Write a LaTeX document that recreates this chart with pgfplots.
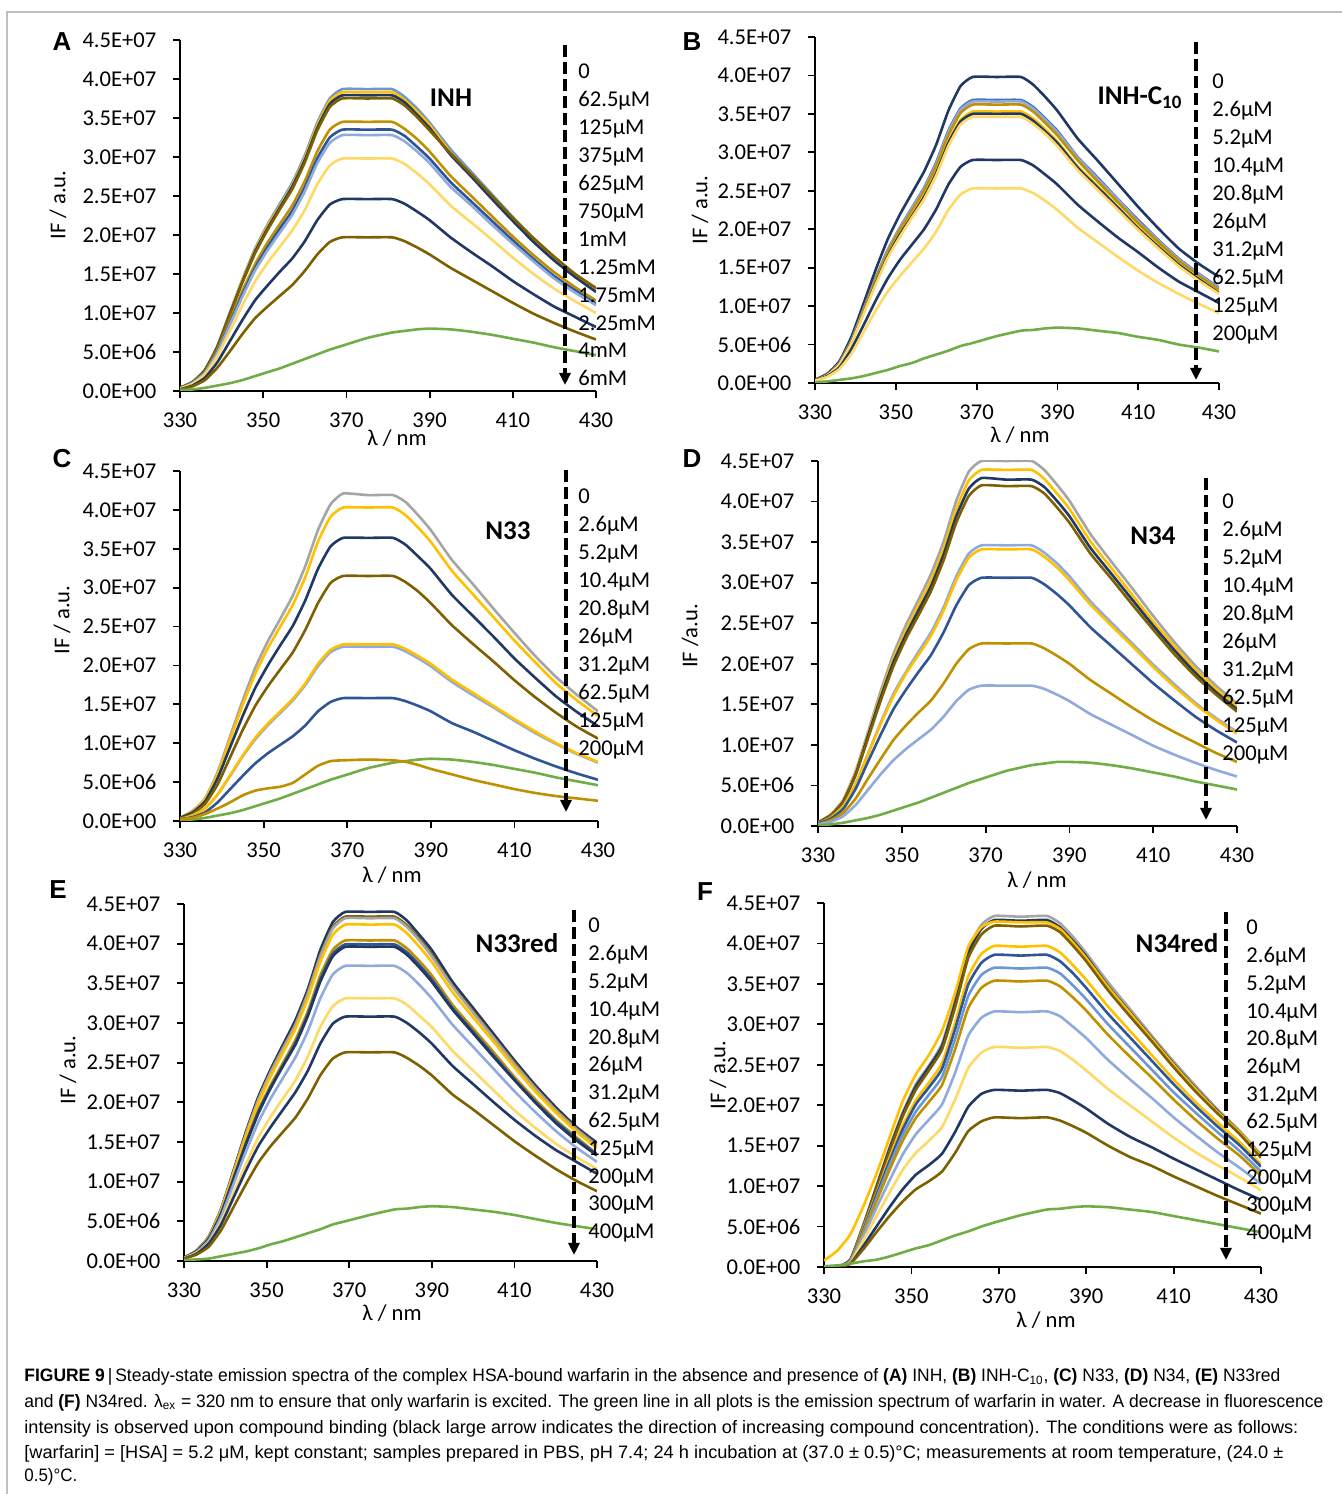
\documentclass[border=0pt]{standalone}
\usepackage{pgfplots}
\pgfplotsset{compat=1.18}
\usepackage{pgfplotstable}
\usepackage{graphicx}
\usepackage{fontspec}
\usetikzlibrary{arrows.meta}
\setmainfont{Carlito}
\newfontfamily\capfont{Liberation Sans}
\newfontfamily\letfont{Liberation Sans}

\definecolor{cGray}{HTML}{A5A5A5}
\definecolor{cGold}{HTML}{FFC000}
\definecolor{cNavy}{HTML}{203864}
\definecolor{cBrown}{HTML}{7F6000}
\definecolor{cDkGold}{HTML}{BF9000}
\definecolor{cBlue}{HTML}{2F5597}
\definecolor{cBlueM}{HTML}{4472C4}
\definecolor{cBlueL}{HTML}{6C97D6}
\definecolor{cLtBlue}{HTML}{8FAADC}
\definecolor{cLtGold}{HTML}{FFD966}
\definecolor{cGreen}{HTML}{70AD47}
\definecolor{cFrame}{HTML}{BFBFBF}

\newcommand\fs{\fontsize{11.3}{13}\selectfont}

% ---------- data (intensity in units of 1e6) ----------
\pgfplotstableread{
id 330 333 336 339 342 345 348 351 354 357 360 363 366 369 375 381 384 387 390 395 400 405 410 415 420 425 430
a1 0.4 1.2 2.7 5.8 10.1 14.3 18.2 21.3 24.0 26.7 30.2 34.4 37.5 38.7 38.7 38.7 37.7 36.2 34.4 31.0 28.1 25.2 22.3 19.5 17.0 14.9 13.0
a2 0.4 1.1 2.7 5.7 10.0 14.2 18.0 21.1 23.7 26.4 29.9 34.1 37.2 38.3 38.3 38.3 37.3 35.8 34.1 30.6 27.8 24.9 22.0 19.3 16.9 14.7 12.8
a3 0.4 1.1 2.7 5.7 9.9 14.0 17.8 20.8 23.5 26.2 29.6 33.7 36.8 37.9 37.9 37.9 37.0 35.4 33.7 30.3 27.5 24.6 21.8 19.1 16.7 14.6 12.7
a4 0.4 1.1 2.6 5.6 9.8 13.9 17.6 20.6 23.3 25.9 29.3 33.4 36.4 37.5 37.5 37.5 36.6 35.1 33.4 30.5 27.8 25.0 22.2 19.6 17.2 15.0 13.2
a5 0.3 1.0 2.4 5.2 9.0 12.8 16.2 19.0 21.4 23.8 26.9 30.7 33.5 34.5 34.5 34.5 33.6 32.3 30.7 27.6 25.0 22.4 19.8 17.4 15.2 13.3 11.6
a6 0.3 1.0 2.3 5.0 8.7 12.4 15.7 18.4 20.8 23.1 26.1 29.8 32.5 33.5 33.5 33.5 32.7 31.3 29.8 26.8 24.3 21.8 19.3 16.9 14.7 12.9 11.2
a7 0.3 1.0 2.3 4.9 8.5 12.1 15.4 18.0 20.3 22.6 25.6 29.2 31.8 32.8 32.8 32.8 32.0 30.7 29.2 26.2 23.8 21.3 18.9 16.6 14.4 12.6 11.0
a8 0.3 0.9 2.1 4.5 7.7 11.0 14.0 16.4 18.5 20.6 23.2 26.5 28.9 29.8 29.8 29.8 29.1 27.9 26.5 23.8 21.6 19.4 17.1 15.0 13.1 11.5 10.0
a9 0.2 0.7 1.7 3.7 6.4 9.1 11.6 13.5 15.3 17.0 19.2 21.9 23.9 24.6 24.6 24.6 24.0 23.0 21.9 19.7 17.8 16.0 14.1 12.4 10.8 9.5 8.2
a10 0.2 0.6 1.4 3.0 5.1 7.3 9.3 10.8 12.2 13.6 15.4 17.5 19.1 19.7 19.7 19.7 19.2 18.4 17.5 15.8 14.3 12.8 11.3 9.9 8.7 7.6 6.6
g 0.1 0.2 0.4 0.7 1.0 1.4 1.9 2.4 2.9 3.5 4.1 4.7 5.3 5.8 6.8 7.5 7.7 7.9 8.0 7.9 7.6 7.2 6.7 6.2 5.6 5.1 4.6
}\rawA
\pgfplotstableread{
id 330 333 336 339 342 345 348 351 354 357 360 363 366 369 375 381 384 387 390 395 400 405 410 415 420 425 430
b1 0.4 1.2 2.8 6.0 10.3 14.7 18.7 21.9 24.7 27.5 31.0 35.4 38.6 39.8 39.8 39.8 38.8 37.2 35.4 31.8 28.9 25.9 22.9 20.1 17.5 15.5 13.8
b2 0.4 1.1 2.6 5.5 9.6 13.6 17.3 20.2 22.8 25.4 28.7 32.8 35.7 36.8 36.8 36.8 35.9 34.4 32.8 29.4 26.7 23.9 21.2 18.6 16.2 14.2 12.4
b3 0.4 1.1 2.6 5.5 9.5 13.5 17.2 20.1 22.7 25.3 28.5 32.6 35.5 36.6 36.6 36.6 35.7 34.2 32.6 29.3 26.5 23.8 21.0 18.5 16.1 14.1 12.3
b4 0.4 1.1 2.5 5.4 9.4 13.4 17.0 19.9 22.4 25.0 28.2 32.2 35.1 36.2 36.2 36.2 35.3 33.8 32.2 29.0 26.2 23.5 20.8 18.3 15.9 13.9 12.1
b5 0.4 1.1 2.5 5.3 9.2 13.1 16.6 19.4 21.9 24.4 27.5 31.4 34.2 35.3 35.3 35.3 34.4 33.0 31.4 28.2 25.6 22.9 20.3 17.8 15.5 13.6 11.8
b6 0.4 1.1 2.5 5.3 9.1 13.0 16.5 19.3 21.7 24.2 27.3 31.2 34.0 35.0 35.0 35.0 34.1 32.7 31.2 28.0 25.4 22.8 20.1 17.7 15.4 13.5 11.7
b7 0.3 1.0 2.4 5.2 9.0 12.8 16.3 19.0 21.5 23.9 27.0 30.8 33.6 34.6 34.6 34.6 33.7 32.4 30.8 27.7 25.1 22.5 19.9 17.5 15.2 13.3 11.6
b8 0.3 0.9 2.0 4.4 7.5 10.7 13.6 16.0 18.0 20.0 22.6 25.8 28.1 29.0 29.0 29.0 28.3 27.1 25.8 23.2 21.0 18.9 17.0 15.0 13.2 11.8 10.4
b9 0.3 0.8 1.8 3.8 6.6 9.4 11.9 13.9 15.7 17.5 19.7 22.5 24.5 25.3 25.3 25.3 24.7 23.7 22.5 20.2 18.3 16.4 14.6 13.0 11.6 10.3 9.1
g 0.1 0.2 0.4 0.6 0.9 1.3 1.7 2.2 2.6 3.2 3.7 4.2 4.8 5.2 6.1 6.8 6.9 7.1 7.2 7.1 6.8 6.5 6.0 5.6 5.0 4.6 4.1
}\rawB
\pgfplotstableread{
id 330 333 336 339 342 345 348 351 354 357 360 363 366 369 375 381 384 387 390 395 400 405 410 415 420 425 430
c1 0.4 1.3 2.9 6.3 10.9 15.5 19.7 23.1 26.0 29.0 32.8 37.4 40.7 42.1 41.9 41.9 41.0 39.3 37.4 33.6 30.5 27.3 24.2 21.2 18.5 16.2 14.1
c2 0.4 1.2 2.8 6.0 10.5 14.9 18.9 22.2 25.0 27.8 31.4 35.9 39.1 40.3 40.3 40.3 39.3 37.7 35.9 32.2 29.2 26.2 23.2 20.4 17.7 15.5 13.5
c3 0.4 1.1 2.5 5.5 9.5 13.5 17.1 20.0 22.6 25.1 28.4 32.4 35.3 36.4 36.4 36.4 35.5 34.0 32.4 29.1 26.4 23.7 20.9 18.4 16.0 14.0 12.2
c4 0.3 0.9 2.2 4.7 8.2 11.7 14.8 17.3 19.5 21.7 24.6 28.0 30.6 31.5 31.5 31.5 30.7 29.5 28.0 25.2 22.8 20.5 18.1 15.9 13.9 12.1 10.6
c5 0.2 0.7 1.6 3.4 5.8 8.3 10.5 12.3 13.9 15.5 17.5 19.9 21.7 22.4 22.4 22.4 21.8 20.9 19.9 17.9 16.2 14.6 12.9 11.3 9.9 8.6 7.5
c6 0.2 0.7 1.6 3.4 5.9 8.4 10.7 12.5 14.1 15.7 17.7 20.2 22.0 22.7 22.7 22.7 22.1 21.2 20.2 18.2 16.5 14.8 13.1 11.5 10.0 8.7 7.6
c7 0.2 0.5 1.1 2.4 4.1 5.8 7.4 8.7 9.8 10.9 12.3 14.1 15.3 15.8 15.8 15.8 15.4 14.8 14.1 12.6 11.5 10.3 9.1 8.0 7.0 6.1 5.3
c8 0.2 0.4 0.9 1.6 2.4 3.3 3.9 4.2 4.4 4.9 6.0 7.1 7.7 7.8 7.9 7.8 7.6 7.2 6.7 6.0 5.3 4.7 4.1 3.6 3.2 2.9 2.6
g 0.1 0.2 0.4 0.7 1.0 1.4 1.9 2.4 2.9 3.5 4.1 4.7 5.3 5.8 6.8 7.5 7.7 7.9 8.0 7.9 7.6 7.2 6.7 6.2 5.6 5.1 4.6
}\rawC
\pgfplotstableread{
id 330 333 336 339 342 345 348 351 354 357 360 363 366 369 375 381 384 387 390 395 400 405 410 415 420 425 430
d1 0.5 1.4 3.2 6.8 11.7 16.7 21.2 24.8 27.9 31.1 35.1 40.1 43.7 45.0 45.0 45.0 43.9 42.1 40.1 36.0 32.6 29.3 25.9 22.7 19.8 17.3 15.1
d2 0.4 1.3 3.1 6.6 11.4 16.2 20.6 24.1 27.2 30.3 34.2 39.1 42.6 43.9 43.9 43.9 42.8 41.0 39.1 35.1 31.8 28.5 25.2 22.2 19.3 16.9 14.7
d3 0.4 1.3 3.0 6.4 11.2 15.9 20.2 23.6 26.6 29.6 33.5 38.2 41.6 42.9 42.7 42.7 41.8 40.1 38.2 34.3 31.1 27.9 24.7 21.7 18.9 16.5 14.4
d4 0.4 1.3 2.9 6.3 10.9 15.5 19.7 23.1 26.0 29.0 32.8 37.4 40.7 42.0 41.9 41.9 41.0 39.3 37.4 33.6 30.5 27.3 24.2 21.2 18.5 16.2 14.1
d5 0.3 1.0 2.4 5.2 9.0 12.8 16.3 19.0 21.5 23.9 27.0 30.8 33.6 34.6 34.6 34.6 33.7 32.4 30.8 27.7 25.1 22.5 19.9 17.5 15.2 13.3 11.6
d6 0.3 1.0 2.4 5.1 8.9 12.6 16.0 18.8 21.1 23.5 26.6 30.3 33.1 34.1 34.1 34.1 33.2 31.9 30.3 27.3 24.7 22.2 19.6 17.2 15.0 13.1 11.4
d7 0.3 0.9 2.1 4.6 8.0 11.3 14.4 16.8 19.0 21.1 23.9 27.2 29.7 30.6 30.6 30.6 29.8 28.6 27.2 24.5 22.2 19.9 17.6 15.5 13.5 11.8 10.3
d8 0.2 0.7 1.6 3.4 5.9 8.3 10.6 12.4 14.0 15.5 17.6 20.0 21.8 22.5 22.5 22.5 21.9 21.0 20.0 18.0 16.3 14.6 13.0 11.6 10.3 9.0 7.9
d9 0.2 0.5 1.2 2.6 4.5 6.4 8.1 9.5 10.7 11.9 13.5 15.4 16.8 17.3 17.3 17.3 16.9 16.2 15.4 13.8 12.5 11.2 9.9 8.8 7.8 6.9 6.1
g 0.1 0.2 0.4 0.7 1.0 1.4 1.9 2.4 2.9 3.5 4.1 4.7 5.3 5.8 6.8 7.5 7.7 7.9 7.9 7.8 7.5 7.1 6.6 6.1 5.5 5.0 4.5
}\rawD
\pgfplotstableread{
id 330 333 336 339 342 345 348 351 354 357 360 363 366 369 375 381 384 387 390 395 400 405 410 415 420 425 430
e1 0.4 1.3 3.1 6.6 11.4 16.3 20.7 24.2 27.3 30.4 34.3 39.2 42.7 44.0 44.0 44.0 42.9 41.1 39.2 35.2 31.9 28.6 25.3 22.2 19.4 16.9 14.9
e2 0.4 1.3 3.0 6.5 11.3 16.1 20.4 23.9 26.9 29.9 33.9 38.6 42.1 43.4 43.4 43.4 42.3 40.6 38.6 34.7 31.5 28.2 25.0 21.9 19.1 16.7 14.6
e3 0.4 1.3 3.0 6.5 11.2 16.0 20.3 23.8 26.8 29.8 33.7 38.4 41.9 43.2 43.2 43.2 42.1 40.4 38.4 34.6 31.3 28.1 24.8 21.8 19.0 16.6 14.5
e4 0.4 1.3 3.0 6.4 11.0 15.7 19.9 23.3 26.3 29.3 33.1 37.7 41.1 42.4 42.4 42.4 41.3 39.6 37.7 33.9 30.7 27.6 24.4 21.4 18.7 16.3 14.2
e5 0.4 1.2 2.8 6.1 10.5 14.9 19.0 22.2 25.0 27.9 31.5 36.0 39.2 40.4 40.4 40.4 39.4 37.8 36.0 32.3 29.3 26.3 23.2 20.4 17.8 15.6 13.5
e6 0.4 1.2 2.8 6.0 10.4 14.8 18.8 21.9 24.7 27.5 31.1 35.5 38.7 39.9 39.9 39.9 38.9 37.3 35.5 31.9 28.9 25.9 22.9 20.1 17.6 15.4 13.4
e7 0.4 1.2 2.8 5.9 10.3 14.7 18.6 21.8 24.6 27.3 30.9 35.2 38.4 39.6 39.6 39.6 38.6 37.0 35.2 31.7 28.7 25.7 22.8 20.0 17.4 15.2 13.3
e8 0.4 1.1 2.6 5.6 9.7 13.8 17.5 20.5 23.1 25.7 29.0 33.1 36.1 37.2 37.2 37.2 36.3 34.8 33.1 29.8 27.0 24.2 21.4 18.8 16.4 14.3 12.5
e9 0.3 1.0 2.3 5.0 8.6 12.2 15.6 18.2 20.5 22.8 25.8 29.5 32.1 33.1 33.1 33.1 32.3 30.9 29.5 26.5 24.0 21.5 19.0 16.8 14.8 13.1 11.6
e10 0.3 0.9 2.2 4.6 8.0 11.4 14.5 16.9 19.1 21.3 24.0 27.4 29.9 30.8 30.8 30.8 30.0 28.8 27.4 24.6 22.3 20.0 17.8 15.8 14.0 12.5 11.0
e11 0.3 0.8 1.8 3.9 6.8 9.7 12.4 14.5 16.3 18.1 20.5 23.4 25.5 26.3 26.3 26.3 25.6 24.6 23.4 21.0 19.1 17.1 15.1 13.3 11.6 10.1 8.8
g 0.1 0.2 0.3 0.6 0.9 1.2 1.6 2.1 2.5 3.0 3.5 4.0 4.6 5.0 5.8 6.5 6.6 6.8 6.9 6.8 6.5 6.2 5.8 5.3 4.8 4.4 4.0
}\rawE
\pgfplotstableread{
id 330 333 336 339 342 345 348 351 354 357 360 363 366 369 375 381 384 387 390 395 400 405 410 415 420 425 430
f1 0 0 0.9 5.2 10.0 14.8 19.1 22.6 24.9 27.6 33.0 39.3 42.3 43.4 43.3 43.4 42.5 40.8 38.8 35.2 31.9 28.6 25.4 22.4 19.5 16.9 13.9
f2 0 0 0.9 5.1 9.9 14.6 18.9 22.3 24.7 27.3 32.6 38.8 41.8 42.9 42.8 42.9 42.0 40.3 38.4 34.7 31.5 28.3 25.1 22.1 19.3 16.7 13.7
f3 0.8 2.0 4.0 7.5 11.5 16.0 20.5 23.8 26.2 29.2 33.9 39.6 42.0 42.7 42.6 42.6 41.8 40.1 38.2 34.6 31.4 28.2 25.0 22.0 19.2 16.7 13.7
f4 0 0 0.8 5.1 9.7 14.3 18.6 21.9 24.3 26.9 32.1 38.2 41.1 42.2 42.1 42.2 41.4 39.7 37.8 34.2 31.0 27.9 24.7 21.7 19.0 16.5 13.5
f5 0 0 0.8 4.8 9.1 13.5 17.5 20.6 22.8 25.2 30.2 35.9 38.7 39.7 39.6 39.7 38.9 37.3 35.5 32.2 29.2 26.2 23.2 20.4 17.9 15.5 12.7
f6 0 0 0.8 4.6 8.9 13.1 17.0 20.1 22.2 24.5 29.4 34.9 37.6 38.6 38.5 38.6 37.8 36.3 34.5 31.3 28.4 25.5 22.6 19.9 17.4 15.1 12.4
f7 0 0 0.7 4.4 8.5 12.6 16.3 19.2 21.3 23.5 28.2 33.5 36.1 37.0 36.9 37.0 36.3 34.8 33.1 30.0 27.2 24.4 21.6 19.1 16.7 14.4 11.8
f8 0 0 0.7 4.2 8.1 12.0 15.6 18.4 20.4 22.5 26.9 32.0 34.5 35.4 35.3 35.4 34.7 33.3 31.7 28.7 26.0 23.4 20.7 18.2 15.9 13.8 11.3
f9 0 0 0.6 3.8 7.3 10.7 13.9 16.4 18.2 20.1 24.0 28.6 30.8 31.6 31.5 31.6 31.0 29.7 28.3 25.6 23.2 20.9 18.5 16.3 14.2 12.3 10.3
f10 0 0 0.5 3.3 6.3 9.2 12.0 14.1 15.6 17.3 20.7 24.6 26.5 27.2 27.1 27.2 26.7 25.6 24.3 22.0 20.0 18.0 16.0 14.2 12.6 11.1 9.5
f11 0 0 0.4 2.6 5.0 7.4 9.6 11.4 12.6 14.0 16.7 19.8 21.4 21.9 21.8 21.9 21.5 20.6 19.6 17.7 16.1 14.8 13.4 12.1 10.8 9.5 8.3
f12 0 0 0.4 2.2 4.3 6.3 8.1 9.6 10.6 11.8 14.1 16.8 18.0 18.5 18.4 18.5 18.1 17.4 16.6 15.0 13.6 12.5 11.2 10.0 8.8 7.7 6.6
g 0.1 0.2 0.4 0.7 0.9 1.3 1.8 2.3 2.7 3.3 3.9 4.4 5.0 5.5 6.4 7.1 7.2 7.4 7.5 7.4 7.1 6.8 6.3 5.8 5.3 4.8 4.3
}\rawF
\pgfplotstabletranspose[colnames from=id,input colnames to=x]{\tabA}{\rawA}
\pgfplotstabletranspose[colnames from=id,input colnames to=x]{\tabB}{\rawB}
\pgfplotstabletranspose[colnames from=id,input colnames to=x]{\tabC}{\rawC}
\pgfplotstabletranspose[colnames from=id,input colnames to=x]{\tabD}{\rawD}
\pgfplotstabletranspose[colnames from=id,input colnames to=x]{\tabE}{\rawE}
\pgfplotstabletranspose[colnames from=id,input colnames to=x]{\tabF}{\rawF}

\pgfplotsset{
  panel/.style={
    scale only axis, axis lines=left,
    axis line style={-, line width=0.9pt, black},
    xmin=330, xmax=430, ymin=0, ymax=45,
    xtick={330,350,370,390,410,430},
    xticklabels={330,350,370,390,410,430},
    ytick={0,5,10,15,20,25,30,35,40,45},
    yticklabels={0.0E+00,5.0E+06,1.0E+07,1.5E+07,2.0E+07,2.5E+07,3.0E+07,3.5E+07,4.0E+07,4.5E+07},
    tick align=outside, major tick length=3.5pt,
    tick style={black, line width=0.9pt},
    ticklabel style={font=\fs},
    yticklabel style={xshift=-4.8pt},
    xticklabel style={yshift=-3.8pt},
    no markers,
    every axis plot/.append style={line width=1.3pt, smooth, tension=0.3, line join=round},
  },
}
\tikzset{
  arr/.style={line width=2pt, dash pattern=on 6pt off 2.5pt, -{Triangle[length=6pt,width=5.5pt]}},
  conc/.style={font=\fs, anchor=base west, inner sep=0pt},
  ttl/.style={font=\bfseries\fontsize{13.5}{15}\selectfont},
  plet/.style={font=\letfont\bfseries\fontsize{13}{15}\selectfont},
  ylab/.style={font=\fs, rotate=90},
  xlab/.style={font=\fs},
}

\begin{document}
\begin{tikzpicture}
\path[use as bounding box] (0pt,0pt) rectangle (671pt,747pt);
\draw[cFrame, line width=0.6pt] (3.5pt,0pt) -- (3.5pt,741pt) -- (671pt,741pt);

% ---------------- A ----------------
\begin{axis}[panel, at={(90pt,551.5pt)}, anchor=south west, width=208pt, height=175.5pt]
\addplot[cBlueL] table[x=x,y=a1]{\tabA};
\addplot[cGold] table[x=x,y=a2]{\tabA};
\addplot[cNavy] table[x=x,y=a3]{\tabA};
\addplot[cBrown] table[x=x,y=a4]{\tabA};
\addplot[cDkGold] table[x=x,y=a5]{\tabA};
\addplot[cBlue] table[x=x,y=a6]{\tabA};
\addplot[cLtBlue] table[x=x,y=a7]{\tabA};
\addplot[cLtGold] table[x=x,y=a8]{\tabA};
\addplot[cNavy] table[x=x,y=a9]{\tabA};
\addplot[cBrown] table[x=x,y=a10]{\tabA};
\addplot[cGreen] table[x=x,y=g]{\tabA};
\end{axis}

% ---------------- B ----------------
\begin{axis}[panel, at={(407.5pt,555.5pt)}, anchor=south west, width=202pt, height=173pt]
\addplot[cNavy] table[x=x,y=b1]{\tabB};
\addplot[cBlueM] table[x=x,y=b2]{\tabB};
\addplot[cLtBlue] table[x=x,y=b3]{\tabB};
\addplot[cDkGold] table[x=x,y=b4]{\tabB};
\addplot[cGold] table[x=x,y=b5]{\tabB};
\addplot[cNavy] table[x=x,y=b6]{\tabB};
\addplot[cLtGold] table[x=x,y=b7]{\tabB};
\addplot[cNavy] table[x=x,y=b8]{\tabB};
\addplot[cLtGold] table[x=x,y=b9]{\tabB};
\addplot[cGreen] table[x=x,y=g]{\tabB};
\end{axis}

% ---------------- C ----------------
\begin{axis}[panel, at={(90pt,336.5pt)}, anchor=south west, width=209pt, height=175pt]
\addplot[cGray] table[x=x,y=c1]{\tabC};
\addplot[cGold] table[x=x,y=c2]{\tabC};
\addplot[cNavy] table[x=x,y=c3]{\tabC};
\addplot[cBrown] table[x=x,y=c4]{\tabC};
\addplot[cLtBlue] table[x=x,y=c5]{\tabC};
\addplot[cGold] table[x=x,y=c6]{\tabC};
\addplot[cBlue] table[x=x,y=c7]{\tabC};
\addplot[cGreen] table[x=x,y=g]{\tabC};
\addplot[cDkGold] table[x=x,y=c8]{\tabC};
\end{axis}

% ---------------- D ----------------
\begin{axis}[panel, at={(409pt,334pt)}, anchor=south west, width=209.5pt, height=182.5pt]
\addplot[cGray] table[x=x,y=d1]{\tabD};
\addplot[cGold] table[x=x,y=d2]{\tabD};
\addplot[cNavy] table[x=x,y=d3]{\tabD};
\addplot[cBrown] table[x=x,y=d4]{\tabD};
\addplot[cLtBlue] table[x=x,y=d5]{\tabD};
\addplot[cGold] table[x=x,y=d6]{\tabD};
\addplot[cBlue] table[x=x,y=d7]{\tabD};
\addplot[cDkGold] table[x=x,y=d8]{\tabD};
\addplot[cLtBlue] table[x=x,y=d9]{\tabD};
\addplot[cGreen] table[x=x,y=g]{\tabD};
\end{axis}

% ---------------- E ----------------
\begin{axis}[panel, at={(92pt,116.5pt)}, anchor=south west, width=206.5pt, height=178.5pt]
\addplot[cNavy] table[x=x,y=e1]{\tabE};
\addplot[cBrown] table[x=x,y=e2]{\tabE};
\addplot[cGray] table[x=x,y=e3]{\tabE};
\addplot[cGold] table[x=x,y=e4]{\tabE};
\addplot[cDkGold] table[x=x,y=e5]{\tabE};
\addplot[cBlue] table[x=x,y=e6]{\tabE};
\addplot[cNavy] table[x=x,y=e7]{\tabE};
\addplot[cLtBlue] table[x=x,y=e8]{\tabE};
\addplot[cLtGold] table[x=x,y=e9]{\tabE};
\addplot[cNavy] table[x=x,y=e10]{\tabE};
\addplot[cBrown] table[x=x,y=e11]{\tabE};
\addplot[cGreen] table[x=x,y=g]{\tabE};
\end{axis}

% ---------------- F ----------------
\begin{axis}[panel, at={(412pt,113.5pt)}, anchor=south west, width=218.5pt, height=182pt]
\addplot[cGray] table[x=x,y=f1]{\tabF};
\addplot[cNavy] table[x=x,y=f2]{\tabF};
\addplot[cGold] table[x=x,y=f3]{\tabF};
\addplot[cBrown] table[x=x,y=f4]{\tabF};
\addplot[cGold] table[x=x,y=f5]{\tabF};
\addplot[cBlue] table[x=x,y=f6]{\tabF};
\addplot[cBlueL] table[x=x,y=f7]{\tabF};
\addplot[cDkGold] table[x=x,y=f8]{\tabF};
\addplot[cLtBlue] table[x=x,y=f9]{\tabF};
\addplot[cLtGold] table[x=x,y=f10]{\tabF};
\addplot[cNavy] table[x=x,y=f11]{\tabF};
\addplot[cBrown] table[x=x,y=f12]{\tabF};
\addplot[cGreen] table[x=x,y=g]{\tabF};
\end{axis}

% ---------------- annotations ----------------
\node[plet] at (31pt,726pt) {A};
\node[plet] at (346pt,726pt) {B};
\node[plet] at (31pt,517.5pt) {C};
\node[plet] at (346pt,517.5pt) {D};
\node[plet] at (29pt,302pt) {E};
\node[plet] at (352.5pt,301pt) {F};

\node[ttl] at (225.5pt,698pt) {INH};
\node[ttl] at (570pt,698pt) {INH-C\textsubscript{10}};
\node[ttl] at (254pt,481.5pt) {N33};
\node[ttl] at (576.5pt,479pt) {N34};
\node[ttl] at (258.5pt,275.5pt) {N33red};
\node[ttl] at (588.5pt,275.5pt) {N34red};

\node[ylab] at (29pt,644.5pt) {IF / a.u.};
\node[ylab] at (350pt,642pt) {IF / a.u.};
\node[ylab] at (31pt,437pt) {IF / a.u.};
\node[ylab] at (345pt,429pt) {IF /a.u.};
\node[ylab] at (34pt,212pt) {IF / a.u.};
\node[ylab] at (359pt,209.5pt) {IF / a.u.};

\node[xlab] at (198.5pt,528pt) {λ / nm};
\node[xlab] at (510pt,529.5pt) {λ / nm};
\node[xlab] at (196pt,309.5pt) {λ / nm};
\node[xlab] at (518.5pt,307pt) {λ / nm};
\node[xlab] at (196pt,90.5pt) {λ / nm};
\node[xlab] at (523pt,87pt) {λ / nm};

\draw[arr] (282.5pt,724.5pt) -- (282.5pt,554.5pt);
\draw[arr] (598pt,726pt) -- (598pt,557pt);
\draw[arr] (283pt,512pt) -- (283pt,341pt);
\draw[arr] (603pt,508pt) -- (603pt,337pt);
\draw[arr] (287pt,292pt) -- (287pt,119.5pt);
\draw[arr] (613pt,291pt) -- (613pt,117pt);

\foreach \t [count=\i from 0] in {0,62.5μM,125μM,375μM,625μM,750μM,1mM,1.25mM,1.75mM,2.25mM,4mM,6mM}
  \node[conc] at (289pt,{707.5pt-\i*13.95pt}) {\t};
\foreach \t [count=\i from 0] in {0,2.6μM,5.2μM,10.4μM,20.8μM,26μM,31.2μM,62.5μM,125μM,200μM}
  \node[conc] at (606pt,{702.5pt-\i*13.95pt}) {\t};
\foreach \t [count=\i from 0] in {0,2.6μM,5.2μM,10.4μM,20.8μM,26μM,31.2μM,62.5μM,125μM,200μM}
  \node[conc] at (289pt,{495pt-\i*13.95pt}) {\t};
\foreach \t [count=\i from 0] in {0,2.6μM,5.2μM,10.4μM,20.8μM,26μM,31.2μM,62.5μM,125μM,200μM}
  \node[conc] at (611pt,{492.5pt-\i*13.95pt}) {\t};
\foreach \t [count=\i from 0] in {0,2.6μM,5.2μM,10.4μM,20.8μM,26μM,31.2μM,62.5μM,125μM,200μM,300μM,400μM}
  \node[conc] at (294pt,{280.5pt-\i*13.9pt}) {\t};
\foreach \t [count=\i from 0] in {0,2.6μM,5.2μM,10.4μM,20.8μM,26μM,31.2μM,62.5μM,125μM,200μM,300μM,400μM}
  \node[conc] at (623pt,{279.5pt-\i*13.85pt}) {\t};

% ---------------- caption ----------------
\begin{scope}[every node/.style={anchor=base west, inner sep=0pt, font=\capfont\fontsize{9}{11}\selectfont}]
\node at (12pt,56pt) {\resizebox{628pt}{\height}{\textbf{FIGURE 9}\,|\,Steady-state emission spectra of the complex HSA-bound warfarin in the absence and presence of \textbf{(A)} INH, \textbf{(B)} INH-C\textsubscript{10}, \textbf{(C)} N33, \textbf{(D)} N34, \textbf{(E)} N33red}};
\node at (12pt,43pt) {\resizebox{649.5pt}{\height}{and \textbf{(F)} N34red. λ\textsubscript{ex} = 320 nm to ensure that only warfarin is excited. The green line in all plots is the emission spectrum of warfarin in water. A decrease in fluorescence}};
\node at (12pt,30.5pt) {\resizebox{637pt}{\height}{intensity is observed upon compound binding (black large arrow indicates the direction of increasing compound concentration). The conditions were as follows:}};
\node at (12pt,17.5pt) {\resizebox{629.5pt}{\height}{[warfarin] = [HSA] = 5.2 μM, kept constant; samples prepared in PBS, pH 7.4; 24 h incubation at (37.0 ± 0.5)°C; measurements at room temperature, (24.0 ±}};
\node at (12pt,6pt) {\resizebox{26.5pt}{\height}{0.5)°C.}};
\end{scope}
\end{tikzpicture}
\end{document}
